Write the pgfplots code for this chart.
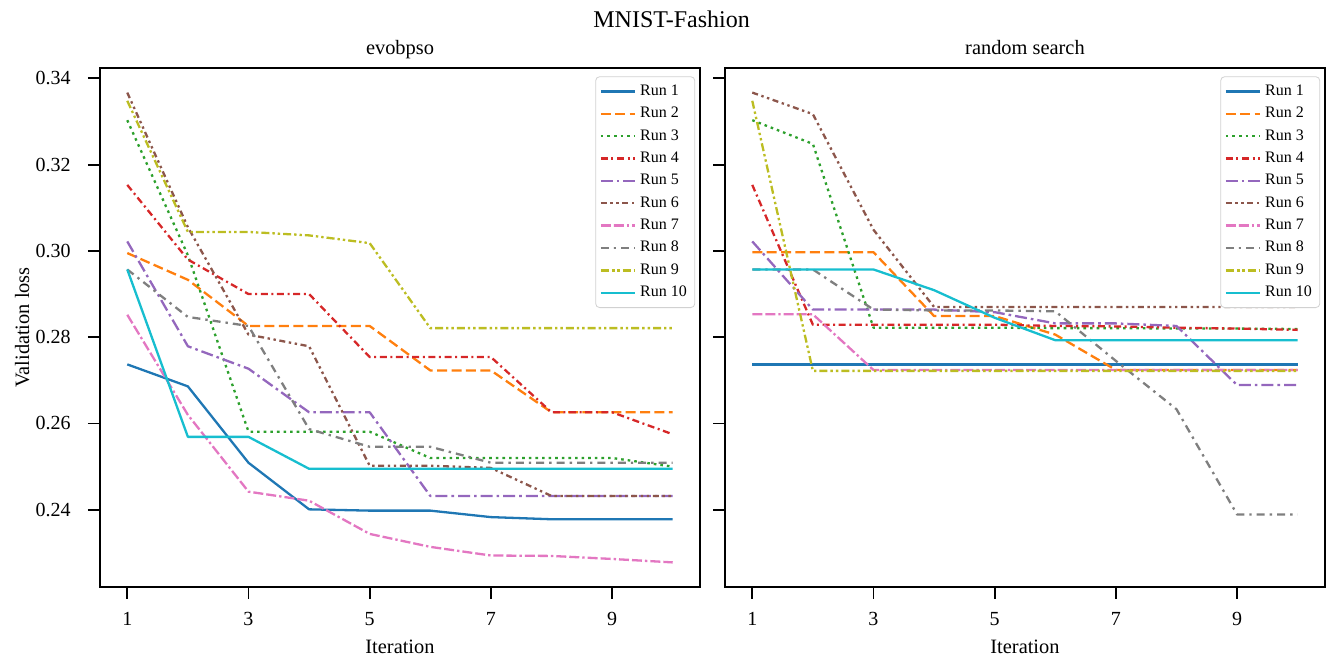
\documentclass[border=0pt]{standalone}
\usepackage{fontspec}
\setmainfont{Liberation Serif}
\usepackage{pgfplots}
\pgfplotsset{compat=1.18}
\usepackage{pgfplotstable}

\definecolor{c1}{HTML}{1F77B4}
\definecolor{c2}{HTML}{FF7F0E}
\definecolor{c3}{HTML}{2CA02C}
\definecolor{c4}{HTML}{D62728}
\definecolor{c5}{HTML}{9467BD}
\definecolor{c6}{HTML}{8C564B}
\definecolor{c7}{HTML}{E377C2}
\definecolor{c8}{HTML}{7F7F7F}
\definecolor{c9}{HTML}{BCBD22}
\definecolor{c10}{HTML}{17BECF}

% evobpso runs
\pgfplotstableread{
it  r1     r2     r3     r4     r5     r6     r7     r8     r9     r10
1   0.2737 0.2995 0.3303 0.3153 0.3022 0.3367 0.2852 0.2957 0.3348 0.2957
2   0.2686 0.2933 0.2990 0.2980 0.2779 0.3055 0.2620 0.2847 0.3044 0.2569
3   0.2509 0.2826 0.2581 0.2900 0.2727 0.2806 0.2442 0.2826 0.3044 0.2569
4   0.2401 0.2826 0.2581 0.2900 0.2626 0.2779 0.2421 0.2587 0.3036 0.2495
5   0.2398 0.2826 0.2581 0.2754 0.2626 0.2502 0.2344 0.2546 0.3018 0.2495
6   0.2398 0.2723 0.2520 0.2754 0.2432 0.2502 0.2314 0.2546 0.2821 0.2495
7   0.2383 0.2723 0.2520 0.2754 0.2432 0.2497 0.2294 0.2509 0.2821 0.2495
8   0.2378 0.2626 0.2520 0.2626 0.2432 0.2432 0.2293 0.2509 0.2821 0.2495
9   0.2378 0.2626 0.2520 0.2626 0.2432 0.2432 0.2286 0.2509 0.2821 0.2495
10  0.2378 0.2626 0.2500 0.2575 0.2432 0.2432 0.2278 0.2509 0.2821 0.2495
}\evo

% random search runs
\pgfplotstableread{
it  r1     r2     r3     r4     r5     r6     r7     r8     r9     r10
1   0.2737 0.2997 0.3303 0.3153 0.3022 0.3367 0.2853 0.2957 0.3348 0.2957
2   0.2737 0.2997 0.3248 0.2829 0.2864 0.3317 0.2853 0.2957 0.2722 0.2957
3   0.2737 0.2997 0.2822 0.2829 0.2864 0.3049 0.2724 0.2864 0.2722 0.2957
4   0.2737 0.2849 0.2822 0.2829 0.2864 0.2870 0.2724 0.2862 0.2722 0.2909
5   0.2737 0.2849 0.2822 0.2829 0.2858 0.2870 0.2724 0.2862 0.2722 0.2845
6   0.2737 0.2806 0.2821 0.2826 0.2832 0.2870 0.2724 0.2860 0.2722 0.2793
7   0.2737 0.2724 0.2821 0.2825 0.2832 0.2870 0.2724 0.2745 0.2722 0.2793
8   0.2737 0.2724 0.2820 0.2822 0.2826 0.2870 0.2724 0.2633 0.2722 0.2793
9   0.2737 0.2724 0.2820 0.2820 0.2689 0.2870 0.2724 0.2389 0.2722 0.2793
10  0.2737 0.2724 0.2819 0.2817 0.2689 0.2870 0.2724 0.2389 0.2722 0.2793
}\rnd

\tikzset{
  run/.style={line width=1.15pt, line cap=butt, line join=round},
  s1/.style={run, c1},
  s2/.style={run, c2, dash pattern=on 5pt off 2.2pt},
  s3/.style={run, c3, dash pattern=on 1.3pt off 2pt},
  s4/.style={run, c4, dash pattern=on 3.5pt off 1.8pt on 1pt off 1.8pt},
  s5/.style={run, c5, dash pattern=on 6pt off 2pt on 1.3pt off 2pt},
  s6/.style={run, c6, dash pattern=on 3pt off 1.8pt on 1.2pt off 1.8pt on 1.2pt off 1.8pt},
  s7/.style={run, c7, dash pattern=on 5pt off 1.5pt on 5pt off 1.5pt on 1.2pt off 1.5pt},
  s8/.style={run, c8, dash pattern=on 4pt off 2.5pt on 1.2pt off 2.5pt},
  s9/.style={run, c9, dash pattern=on 4pt off 1.5pt on 1.2pt off 1.5pt on 1.2pt off 1.5pt},
  s10/.style={run, c10},
}

\pgfplotsset{
  panel/.style={
    scale only axis, width=300pt, height=259.5pt,
    xmin=0.55, xmax=10.45, ymin=0.2221, ymax=0.3424,
    xtick={1,3,5,7,9}, ytick={0.24,0.26,0.28,0.30,0.32,0.34},
    tick align=outside, xtick pos=bottom, ytick pos=left,
    major tick length=6pt,
    every tick/.style={black, line width=0.9pt},
    axis line style={line width=1.1pt},
    /pgf/number format/assume math mode=true,
    tick label style={font=\fontsize{10}{12}\selectfont},
    y tick label style={/pgf/number format/fixed, /pgf/number format/fixed zerofill,
      /pgf/number format/precision=2},
    yticklabel style={anchor=east, inner sep=0pt, xshift=-8.5pt},
    xticklabel style={anchor=base, inner sep=0pt, yshift=-13.5pt},
    xlabel={Iteration},
    xlabel style={at={(axis description cs:0.5,0)}, anchor=base, inner sep=0pt,
      yshift=-33.5pt, font=\fontsize{10.2}{12}\selectfont},
    title style={at={(axis description cs:0.5,1)}, anchor=base, inner sep=0pt,
      yshift=0.5pt, font=\fontsize{10.2}{12}\selectfont},
    legend cell align=left,
    legend style={at={(0.992,0.984)}, anchor=north east,
      font=\fontsize{8}{9}\selectfont, draw=black!18, rounded corners=2pt,
      inner xsep=2pt, inner ysep=2pt, row sep=0.4pt},
  }
}

\begin{document}
\begin{tikzpicture}
\path[use as bounding box] (-50pt,-35.5pt) rectangle (619.5pt,293.5pt);

\begin{axis}[panel, title={evobpso},
  ylabel={Validation loss},
  ylabel style={at={(axis description cs:-0.118,0.5)}, anchor=base, inner sep=0pt,
    font=\fontsize{10.2}{12}\selectfont}]
\addplot[s1] table[x=it, y=r1] {\evo};
\addplot[s2] table[x=it, y=r2] {\evo};
\addplot[s3] table[x=it, y=r3] {\evo};
\addplot[s4] table[x=it, y=r4] {\evo};
\addplot[s5] table[x=it, y=r5] {\evo};
\addplot[s6] table[x=it, y=r6] {\evo};
\addplot[s7] table[x=it, y=r7] {\evo};
\addplot[s8] table[x=it, y=r8] {\evo};
\addplot[s9] table[x=it, y=r9] {\evo};
\addplot[s10] table[x=it, y=r10] {\evo};
\legend{Run 1,Run 2,Run 3,Run 4,Run 5,Run 6,Run 7,Run 8,Run 9,Run 10}
\end{axis}

\begin{axis}[panel, at={(312.5pt,0pt)}, title={random search}, yticklabels={}]
\addplot[s1] table[x=it, y=r1] {\rnd};
\addplot[s2] table[x=it, y=r2] {\rnd};
\addplot[s3] table[x=it, y=r3] {\rnd};
\addplot[s4] table[x=it, y=r4] {\rnd};
\addplot[s5] table[x=it, y=r5] {\rnd};
\addplot[s6] table[x=it, y=r6] {\rnd};
\addplot[s7] table[x=it, y=r7] {\rnd};
\addplot[s8] table[x=it, y=r8] {\rnd};
\addplot[s9] table[x=it, y=r9] {\rnd};
\addplot[s10] table[x=it, y=r10] {\rnd};
\legend{Run 1,Run 2,Run 3,Run 4,Run 5,Run 6,Run 7,Run 8,Run 9,Run 10}
\end{axis}

\node[anchor=base, inner sep=0pt, font=\fontsize{12}{14}\selectfont]
  at (285.8pt,279.8pt) {MNIST-Fashion};
\end{tikzpicture}
\end{document}
